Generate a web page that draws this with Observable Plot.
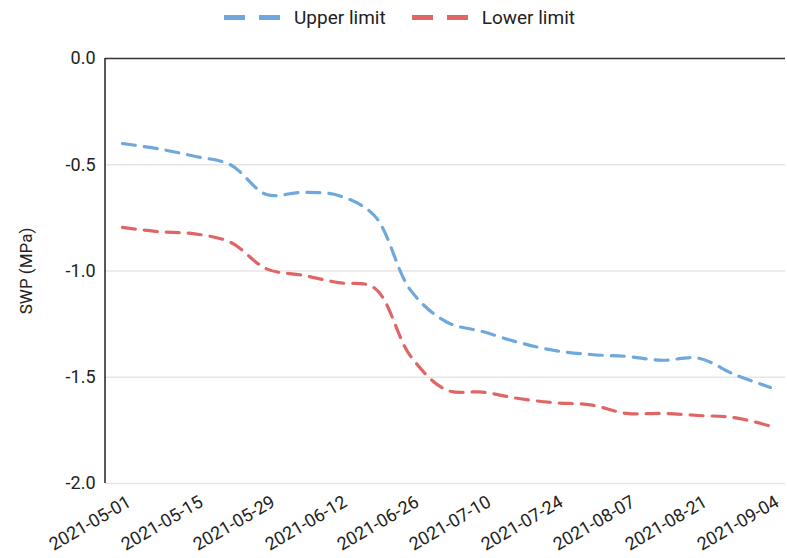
<!DOCTYPE html>
<html>
<head>
<meta charset="utf-8">
<script src="https://cdn.jsdelivr.net/npm/d3@7"></script>
<script src="https://cdn.jsdelivr.net/npm/@observablehq/plot@0.6"></script>
<style>
  html, body { margin: 0; padding: 0; background: #fff; }
  body { width: 787px; height: 558px; overflow: hidden; font-family: Roboto, "Noto Sans", sans-serif; }
  #legend { height: 35px; display: flex; justify-content: center; align-items: center; font-size: 19px; color: #222; padding-left: 12px; box-sizing: border-box; }
  .item { display: flex; align-items: center; margin: 0 13px; }
  .sw { display: inline-block; width: 21px; height: 5px; margin-right: 14px; }
</style>
</head>
<body>
<div id="legend"></div>
<div id="chart"></div>
<script>
const seriesNames = ["Upper limit", "Lower limit"];
const seriesColors = ["#6fa8dc", "#e06666"];
const dates = ["2021-05-01","2021-05-08","2021-05-15","2021-05-22","2021-05-29","2021-06-05","2021-06-12","2021-06-19","2021-06-26","2021-07-03","2021-07-10","2021-07-17","2021-07-24","2021-07-31","2021-08-07","2021-08-14","2021-08-21","2021-08-28","2021-09-04"];
const upperLimit = [-0.40,-0.425,-0.46,-0.50,-0.64,-0.63,-0.645,-0.74,-1.09,-1.24,-1.285,-1.336,-1.374,-1.393,-1.402,-1.42,-1.41,-1.487,-1.548];
const lowerLimit = [-0.795,-0.815,-0.825,-0.865,-0.99,-1.02,-1.055,-1.08,-1.40,-1.56,-1.57,-1.60,-1.62,-1.63,-1.67,-1.67,-1.68,-1.69,-1.73];
const xTicks = ["2021-05-01","2021-05-15","2021-05-29","2021-06-12","2021-06-26","2021-07-10","2021-07-24","2021-08-07","2021-08-21","2021-09-04"];
const yTicks = [0, -0.5, -1.0, -1.5, -2.0];

const parse = d3.utcParse("%Y-%m-%d");
const fmt = d3.utcFormat("%Y-%m-%d");
const rows = [];
dates.forEach((d, i) => {
  rows.push({date: parse(d), value: upperLimit[i], series: seriesNames[0]});
  rows.push({date: parse(d), value: lowerLimit[i], series: seriesNames[1]});
});

// legend
const legend = document.getElementById("legend");
seriesNames.forEach((name, i) => {
  const it = document.createElement("div");
  it.className = "item";
  it.innerHTML = `<span class="sw" style="background:${seriesColors[i]}"></span><span class="sw" style="background:${seriesColors[i]}"></span><span>${name}</span>`;
  legend.appendChild(it);
});

const chart = Plot.plot({
  width: 787,
  height: 523,
  marginTop: 23,
  marginBottom: 75,
  marginLeft: 105,
  marginRight: 2,
  style: {fontFamily: "Roboto, 'Noto Sans', sans-serif", fontSize: "18px", color: "#222", background: "#fff"},
  x: {type: "utc", domain: [parse(dates[0]), parse(dates[dates.length - 1])], insetLeft: 17, insetRight: 15},
  y: {domain: [-2, 0]},
  color: {domain: seriesNames, range: seriesColors},
  marks: [
    Plot.gridY(yTicks.filter(v => v !== 0), {stroke: "#e6e6e6", strokeOpacity: 1, strokeWidth: 1.5}),
    Plot.ruleY([0], {stroke: "#333", strokeWidth: 1.5}),
    Plot.line(rows, {x: "date", y: "value", z: "series", stroke: "series", strokeWidth: 3.2, strokeDasharray: "13,9", curve: "catmull-rom"}),
    Plot.axisY(yTicks, {tickSize: 0, tickPadding: 10, fontSize: 18, tickFormat: d => d.toFixed(1), label: "SWP (MPa)", labelAnchor: "center", labelArrow: "none", labelOffset: 86}),
    Plot.axisX(xTicks.map(parse), {tickSize: 0, tickRotate: -30, fontSize: 18, tickPadding: 17, dx: 7, tickFormat: fmt, label: null})
  ]
});
document.getElementById("chart").appendChild(chart);
const svg = d3.select(chart);
svg.selectAll('g[aria-label="y-axis tick label"], g[aria-label="x-axis tick label"]').attr("font-size", 18).style("font-size", "18px");
svg.selectAll('g[aria-label="y-axis label"]').attr("font-size", 17).style("font-size", "17px");
// left axis line
svg.append("line").attr("x1", 105).attr("x2", 105).attr("y1", 23).attr("y2", 448).attr("stroke", "#222").attr("stroke-width", 1.5);
</script>
</body>
</html>
